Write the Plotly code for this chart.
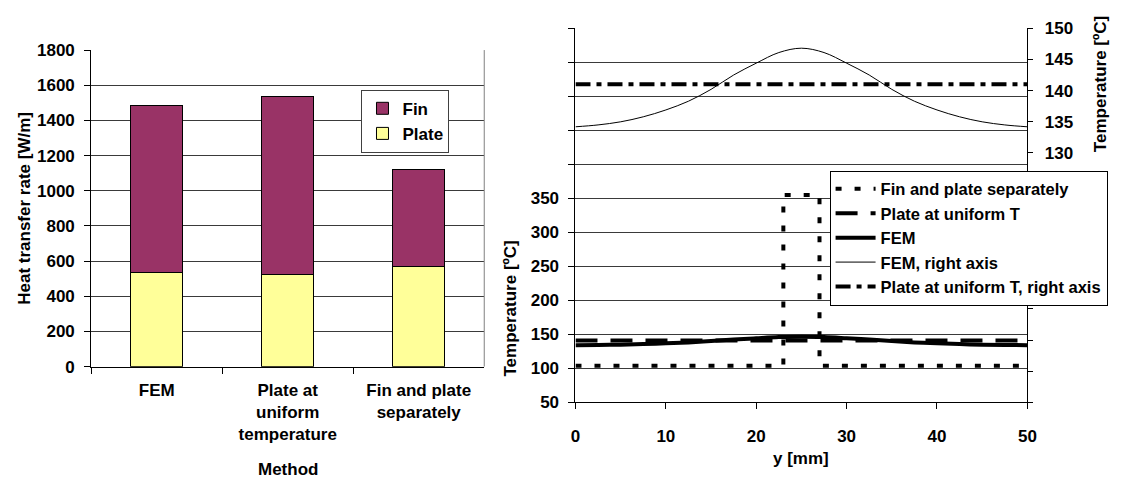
import plotly.graph_objects as go

# ---------------- data ----------------
methods = ["FEM", "Plate at<br>uniform<br>temperature", "Fin and plate<br>separately"]
plate_rate = [537, 523, 570]
fin_rate = [946, 1015, 549]

y_fem = [0, 2.5, 5, 7.5, 10, 12.5, 15, 17.5, 20, 22.5, 25,
         27.5, 30, 32.5, 35, 37.5, 40, 42.5, 45, 47.5, 50]
t_fem = [134.2, 134.5, 135.0, 135.8, 136.9, 138.3, 140.2, 142.5, 144.4, 146.1, 146.8,
         146.1, 144.4, 142.5, 140.2, 138.3, 136.9, 135.8, 135.0, 134.5, 134.2]
y_sep = [0, 23, 23, 27, 27, 50]
t_sep = [104, 104, 355, 355, 104, 104]
y_uni = [0, 50]
t_uni = [141, 141]

left_ticks = [50, 100, 150, 200, 250, 300, 350, 400, 450, 500, 550, 600]
left_labels = ["50", "100", "150", "200", "250", "300", "350", "", "", "", "", ""]
right_ticks = [90, 95, 100, 105, 110, 115, 120, 125, 130, 135, 140, 145, 150]
right_labels = ["", "", "", "", "", "", "", "", "130", "135", "140", "145", "150"]

# ---------------- layout helpers ----------------
W, H = 1121, 492
def fx(p):
    return p / W
def fy(p):
    return 1 - p / H

FONT = "Liberation Sans, Arial, sans-serif"
BF = dict(family=FONT, size=17, color="black", weight="bold")
LF2 = dict(family=FONT, size=16.5, color="black", weight="bold")
GRID = "#3a3a3a"

fig = go.Figure()

# ---- left chart: stacked bars ----
fig.add_trace(go.Bar(x=methods, y=plate_rate, name="Plate", xaxis="x", yaxis="y",
                     marker=dict(color="#FFFF99", line=dict(color="black", width=1)),
                     legend="legend"))
fig.add_trace(go.Bar(x=methods, y=fin_rate, name="Fin", xaxis="x", yaxis="y",
                     marker=dict(color="#993366", line=dict(color="black", width=1)),
                     legend="legend"))

# ---- right chart: temperature profiles ----
fig.add_trace(go.Scatter(x=y_sep, y=t_sep, name="Fin and plate separately", mode="lines",
                         xaxis="x2", yaxis="y2", legend="legend2",
                         line=dict(color="black", width=4, dash="6px,13px")))
fig.add_trace(go.Scatter(x=y_uni, y=t_uni, name="Plate at uniform T", mode="lines",
                         xaxis="x2", yaxis="y2", legend="legend2",
                         line=dict(color="black", width=4, dash="22px,13px")))
fig.add_trace(go.Scatter(x=y_fem, y=t_fem, name="FEM", mode="lines",
                         xaxis="x2", yaxis="y2", legend="legend2",
                         line=dict(color="black", width=4, shape="spline")))
fig.add_trace(go.Scatter(x=y_fem, y=t_fem, name="FEM, right axis", mode="lines",
                         xaxis="x2", yaxis="y3", legend="legend2",
                         line=dict(color="black", width=1, shape="spline")))
fig.add_trace(go.Scatter(x=y_uni, y=t_uni, name="Plate at uniform T, right axis", mode="lines",
                         xaxis="x2", yaxis="y3", legend="legend2",
                         line=dict(color="black", width=4, dash="15px,6px,5px,6px")))

axis_common = dict(showline=True, linecolor="black", linewidth=1, ticks="outside",
                   tickcolor="black", tickwidth=1, tickfont=BF, zeroline=False,
                   fixedrange=True)

fig.update_layout(
    width=W, height=H,
    margin=dict(l=0, r=0, t=0, b=0),
    paper_bgcolor="white", plot_bgcolor="white",
    font=BF,
    barmode="stack", bargap=0.6,
    showlegend=True,
    xaxis=dict(domain=[fx(87.3), fx(485.3)], anchor="y", type="category",
               tickson="boundaries", ticklen=6, showgrid=False,
               ticklabelstandoff=8, **axis_common),
    yaxis=dict(domain=[fy(372), fy(42.7)], anchor="x", range=[0, 1800], dtick=200,
               ticklen=6, showgrid=True, gridcolor=GRID, gridwidth=1,
               ticklabelstandoff=6, **axis_common),
    xaxis2=dict(domain=[fx(577.7), fx(1035.3)], anchor="y2", range=[0, 50], dtick=10,
                ticklen=6, showgrid=False, ticklabelstandoff=12, **axis_common),
    yaxis2=dict(domain=[fy(409.3), fy(20)], anchor="x2", range=[50, 600],
                tickmode="array", tickvals=left_ticks, ticktext=left_labels,
                ticklen=6, showgrid=True, gridcolor=GRID, gridwidth=1,
                ticklabelstandoff=6, **axis_common),
    yaxis3=dict(overlaying="y2", anchor="x2", side="right", range=[90, 150],
                tickmode="array", tickvals=right_ticks, ticktext=right_labels,
                ticklen=5, showgrid=False, ticklabelstandoff=8, **axis_common),
    yaxis4=dict(overlaying="y2", anchor="x2", side="right", range=[90, 150],
                tickmode="array", tickvals=right_ticks, ticks="inside", ticklen=5,
                tickcolor="black", showticklabels=False, showline=False,
                showgrid=False, zeroline=False, fixedrange=True),
    legend=dict(x=fx(361), y=fy(84), xanchor="left", yanchor="top",
                traceorder="reversed", bgcolor="white", bordercolor="#404040",
                borderwidth=1, font=BF, itemwidth=30),
    legend2=dict(x=fx(835), y=fy(168), xanchor="left", yanchor="top",
                 traceorder="normal", bgcolor="white", bordercolor="black",
                 borderwidth=1, font=LF2, itemwidth=40, tracegroupgap=0),
)

# gray right border of the bar chart's plot area
fig.add_shape(type="line", xref="x domain", yref="y domain", x0=1, x1=1, y0=0, y1=1,
              line=dict(color="#808080", width=1))

ann = dict(xref="paper", yref="paper", showarrow=False, font=BF,
           xanchor="center", yanchor="middle")
fig.add_annotation(text="Heat transfer rate [W/m]", x=fx(19), y=fy(207), textangle=-90, **ann)
fig.add_annotation(text="Method", x=fx(286.3), y=fy(479), **ann)
fig.add_annotation(text="Temperature [ºC]", x=fx(512), y=fy(312), textangle=-90, **ann)
fig.add_annotation(text="y [mm]", x=fx(806.5), y=fy(468), **ann)
fig.add_annotation(text="Temperature [ºC]", x=fx(1110), y=fy(78), textangle=-90, **ann)

fig.write_html("out.html")
